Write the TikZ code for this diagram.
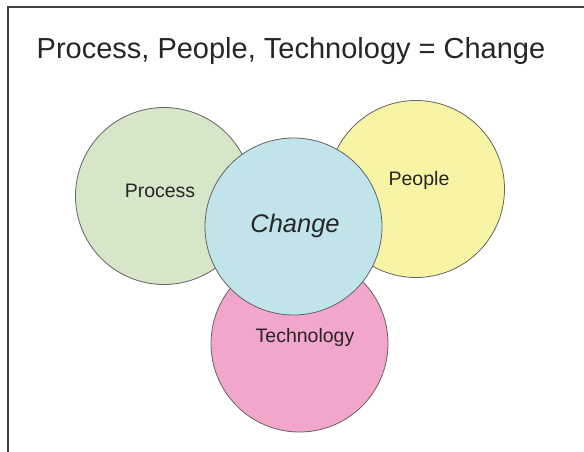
\documentclass[tikz,border=0pt]{standalone}
\usepackage{fontspec}
\setmainfont{Liberation Sans}
\usepackage{xcolor}
\definecolor{procgreen}{RGB}{214,230,200}
\definecolor{peopleyellow}{RGB}{248,244,166}
\definecolor{techpink}{RGB}{242,166,204}
\definecolor{changeblue}{RGB}{193,228,234}
\definecolor{rimgray}{RGB}{100,100,100}
\usetikzlibrary{positioning}
\tikzset{
    bubble/.style   = {circle, draw=rimgray, line width=0.8pt,
                       minimum size=177pt, inner sep=0pt},
    lbl/.style      = {font=\fontsize{19.5}{21}\selectfont, text=black!85},
    framerule/.style= {line width=1.2pt, draw=black!75}
}

\begin{document}
\begin{tikzpicture}[x=1pt, y=-1pt]
\useasboundingbox (0,0) rectangle (584,452);

% --- open frame (top and left edges only) ---
\draw[framerule] (584,7) -- (8,7) -- (8,452);

% --- title ---
\node (title) at (291,51) [font=\fontsize{29}{31}\selectfont, text=black!85]
   {Process, People, Technology = Change};

% --- outer circles ---
\node[bubble, fill=procgreen]    (process) at (164,196)   {};
\node[bubble, fill=peopleyellow] (people)  at (416,189)   {};
\node[bubble, fill=techpink]     (tech)    at (299.5,343.5) {};

% --- centre circle drawn last so it overlaps the others ---
\node[bubble, fill=changeblue]   (change)  at (293.5,226.5) {};

% --- labels ---
\node[lbl] (processT) at (160,191) {Process};
\node[lbl] (peopleT)  at (419,180) {People};
\node[lbl] (techT)    at (305,337) {Technology};
\node[font=\fontsize{25.5}{27}\selectfont\itshape, text=black!85]
   (changeT) at (295,226) {Change};

\end{tikzpicture}
\end{document}
